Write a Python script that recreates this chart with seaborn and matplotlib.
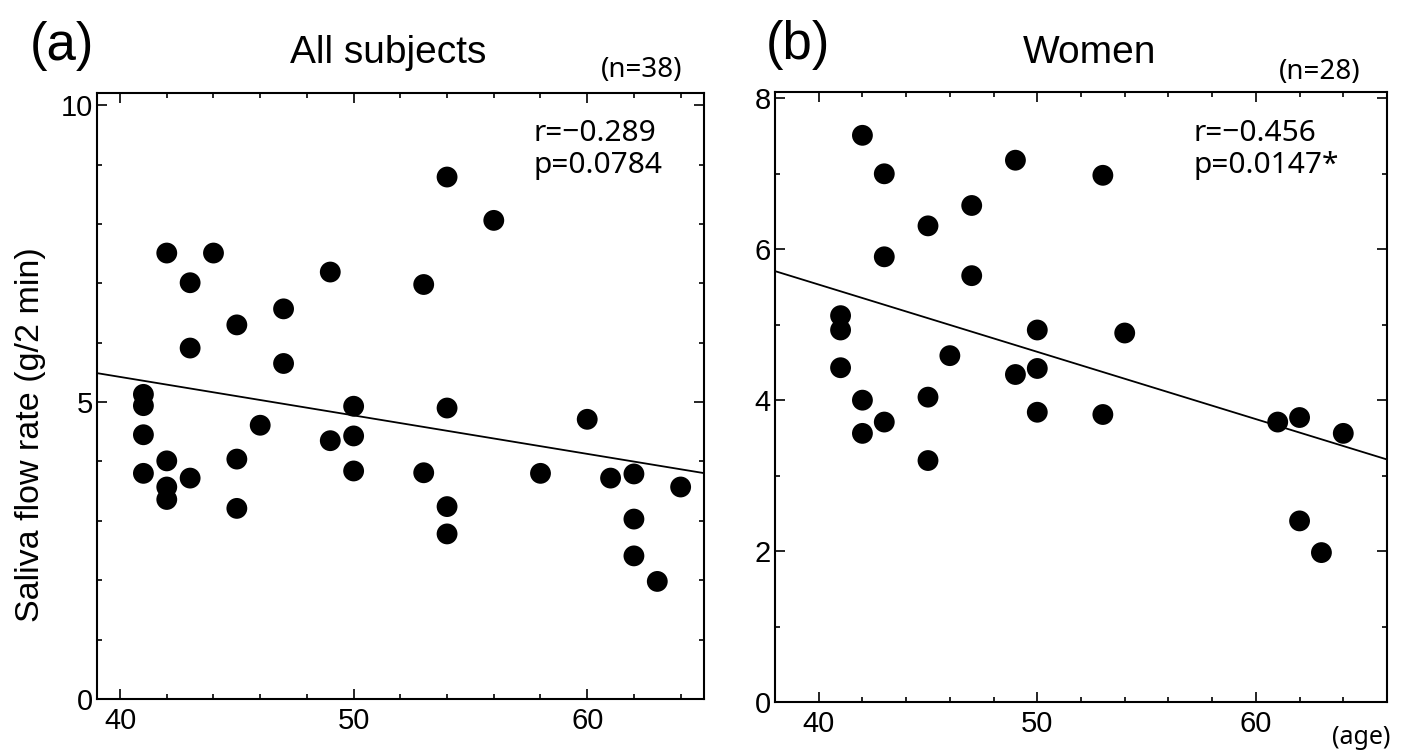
import matplotlib
matplotlib.use("Agg")
import matplotlib.pyplot as plt
import seaborn as sns
import pandas as pd
from matplotlib.ticker import MultipleLocator

# ---- data: (a) all subjects ----
all_age = [54, 56, 42, 44, 49, 43, 53, 47, 45, 43, 47, 41, 41, 50, 54,
           46, 60, 41, 49, 50, 42, 45, 41, 43, 42, 42, 50, 53, 58, 61,
           62, 64, 45, 54, 54, 62, 62, 63]
all_rate = [8.79, 8.06, 7.51, 7.51, 7.19, 7.01, 6.98, 6.57, 6.30, 5.91, 5.65, 5.13, 4.94, 4.93, 4.90,
            4.61, 4.71, 4.45, 4.35, 4.43, 4.01, 4.04, 3.80, 3.72, 3.57, 3.36, 3.84, 3.81, 3.80, 3.72,
            3.79, 3.57, 3.21, 3.24, 2.78, 3.03, 2.41, 1.98]

# ---- data: (b) women ----
women_age = [42, 49, 43, 53, 47, 45, 43, 47, 41, 41, 50, 54, 46, 41, 49, 50,
             42, 45, 42, 43, 50, 53, 45, 61, 62, 64, 62, 63]
women_rate = [7.51, 7.18, 7.00, 6.98, 6.58, 6.31, 5.90, 5.65, 5.12, 4.93, 4.93, 4.89, 4.59, 4.43, 4.34, 4.42,
              4.00, 4.04, 3.56, 3.71, 3.84, 3.81, 3.20, 3.71, 3.77, 3.56, 2.40, 1.98]

panel_labels = ["(a)", "(b)"]
titles = ["All subjects", "Women"]
n_labels = ["(n=38)", "(n=28)"]
stats_labels = ["r=\u22120.289\np=0.0784", "r=\u22120.456\np=0.0147*"]
y_label = "Saliva flow rate (g/2 min)"
x_unit = "(age)"

sns.set_theme(style="white")
plt.rcParams["font.family"] = ["Liberation Sans", "DejaVu Sans"]
plt.rcParams["axes.edgecolor"] = "black"
plt.rcParams["text.color"] = "black"
plt.rcParams["xtick.color"] = "black"
plt.rcParams["ytick.color"] = "black"

W, H = 1406, 751
fig = plt.figure(figsize=(W / 100, H / 100), dpi=100)
ax1 = fig.add_axes([96.7 / W, 1 - 699 / H, (704 - 96.7) / W, (699 - 93.3) / H])
ax2 = fig.add_axes([775 / W, 1 - 702 / H, (1387 - 775) / W, (702 - 92.3) / H])

df_all = pd.DataFrame({"age": all_age, "rate": all_rate})
df_w = pd.DataFrame({"age": women_age, "rate": women_rate})

configs = [
    (ax1, df_all, (39, 65), (0, 10.2), 5),
    (ax2, df_w, (38, 66), (0, 8.08), 2),
]

for ax, df, xl, yl, ymaj in configs:
    ax.set_xlim(*xl)
    ax.set_ylim(*yl)
    sns.regplot(data=df, x="age", y="rate", ax=ax, scatter=False, ci=None,
                truncate=False, color="black", line_kws=dict(lw=1.3))
    sns.scatterplot(data=df, x="age", y="rate", ax=ax, s=225, color="black",
                    edgecolor="none", zorder=3)
    ax.set_xlim(*xl)
    ax.set_ylim(*yl)
    ax.set_xlabel("")
    ax.set_ylabel("")
    ax.xaxis.set_major_locator(MultipleLocator(10))
    ax.xaxis.set_minor_locator(MultipleLocator(2))
    ax.yaxis.set_major_locator(MultipleLocator(ymaj))
    ax.yaxis.set_minor_locator(MultipleLocator(1))
    ax.tick_params(which="both", direction="in", top=True, right=True,
                   bottom=True, left=True, color="black", labelcolor="black",
                   width=1.2)
    ax.tick_params(which="major", length=7.5, labelsize=21)
    ax.tick_params(which="minor", length=3.5)
    ax.tick_params(axis="x", which="major", pad=6)
    ax.tick_params(axis="y", which="major", pad=3)
    for sp in ax.spines.values():
        sp.set_linewidth(1.5)
        sp.set_color("black")

# titles and annotations (pixel positions converted to figure fraction)
def ftext(x, y, s, **kw):
    fig.text(x / W, 1 - y / H, s, **kw)

ftext(30, 60, panel_labels[0], fontsize=38, ha="left", va="baseline")
ftext(766, 59, panel_labels[1], fontsize=38, ha="left", va="baseline")
ftext(388, 63, titles[0], fontsize=28, ha="center", va="baseline")
ftext(1090, 63, titles[1], fontsize=28, ha="center", va="baseline")
ftext(682, 77, n_labels[0], fontsize=20, ha="right", va="baseline",
      family=["Noto Sans", "DejaVu Sans"])
ftext(1360, 79, n_labels[1], fontsize=20, ha="right", va="baseline",
      family=["Noto Sans", "DejaVu Sans"])
ftext(533, 119, stats_labels[0], fontsize=21.5, ha="left", va="top",
      linespacing=1.12, family=["Noto Sans", "DejaVu Sans"])
ftext(1193, 119, stats_labels[1], fontsize=21.5, ha="left", va="top",
      linespacing=1.12, family=["Noto Sans", "DejaVu Sans"])
ftext(1390, 744, x_unit, fontsize=18, ha="right", va="baseline",
      family=["Noto Sans", "DejaVu Sans"])
ftext(31, 435, y_label, fontsize=24.5, rotation=90, ha="center", va="center")

fig.savefig("out.png", dpi=100)
